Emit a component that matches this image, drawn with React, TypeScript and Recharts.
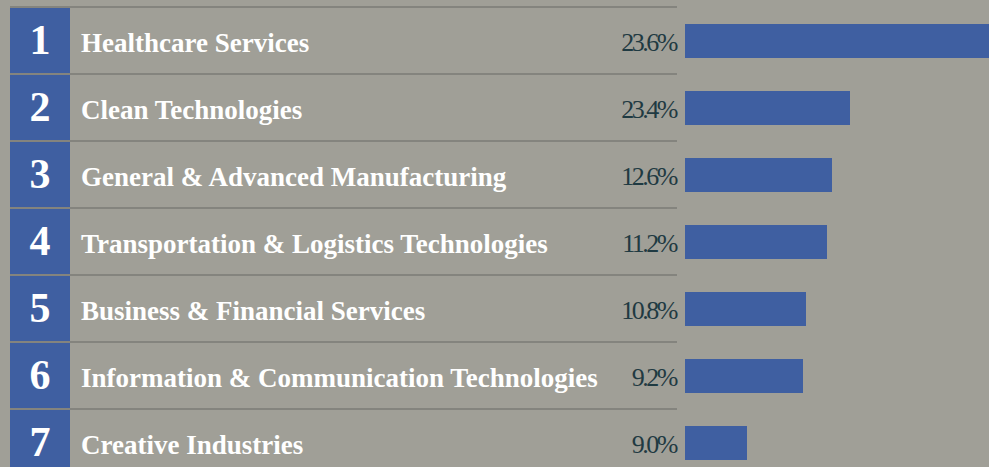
import { Bar, BarChart, XAxis, YAxis } from "recharts";

const ranks = ["1", "2", "3", "4", "5", "6", "7"];
const sectors = [
  "Healthcare Services",
  "Clean Technologies",
  "General & Advanced Manufacturing",
  "Transportation & Logistics Technologies",
  "Business & Financial Services",
  "Information & Communication Technologies",
  "Creative Industries",
];
const shares = ["23.6%", "23.4%", "12.6%", "11.2%", "10.8%", "9.2%", "9.0%"];
// bar lengths as drawn (not proportional to the printed shares)
const barLengths = [304, 165, 147, 142, 121, 118, 62];

const data = sectors.map((name, i) => ({ name, value: barLengths[i] }));

const BG = "#a09f97";
const BLUE = "#3f5fa1";
const RULE = "#84847e";
const ROW = 67;

const RowTick = (props: any) => {
  const { y, payload } = props;
  const i = payload.index;
  const top = y - ROW / 2;
  return (
    <g>
      <rect x={10} y={top} width={60} height={ROW} fill={BLUE} />
      <line x1={10} x2={677} y1={top} y2={top} stroke={RULE} strokeWidth={2} />
      {i === sectors.length - 1 && (
        <line x1={10} x2={677} y1={top + ROW} y2={top + ROW} stroke={RULE} strokeWidth={2} />
      )}
      <text
        x={40}
        y={y + 13}
        textAnchor="middle"
        fill="#ffffff"
        fontFamily="'Liberation Serif', serif"
        fontWeight={700}
        fontSize={42}
      >
        {ranks[i]}
      </text>
      <text
        x={81}
        y={y + 11}
        fill="#ffffff"
        fontFamily="'Liberation Serif', serif"
        fontWeight={700}
        fontSize={27}
      >
        {payload.value}
      </text>
      <text
        x={676}
        y={y + 10}
        textAnchor="end"
        fill="#1f3a42"
        fontFamily="'Liberation Serif', serif"
        fontSize={26}
        letterSpacing={-2.5}
      >
        {shares[i]}
      </text>
    </g>
  );
};

export default function App() {
  return (
    <div style={{ width: 989, height: 467, overflow: "hidden", background: BG }}>
      <style>{"html,body{margin:0;overflow:hidden;}"}</style>
      <BarChart
        width={989}
        height={7 + ROW * sectors.length}
        data={data}
        layout="vertical"
        margin={{ top: 7, right: 0, bottom: 0, left: 0 }}
      >
        <XAxis type="number" hide domain={[0, 304]} />
        <YAxis
          type="category"
          dataKey="name"
          width={685}
          axisLine={false}
          tickLine={false}
          interval={0}
          tick={<RowTick />}
        />
        <Bar dataKey="value" fill={BLUE} barSize={34} isAnimationActive={false} />
      </BarChart>
    </div>
  );
}
